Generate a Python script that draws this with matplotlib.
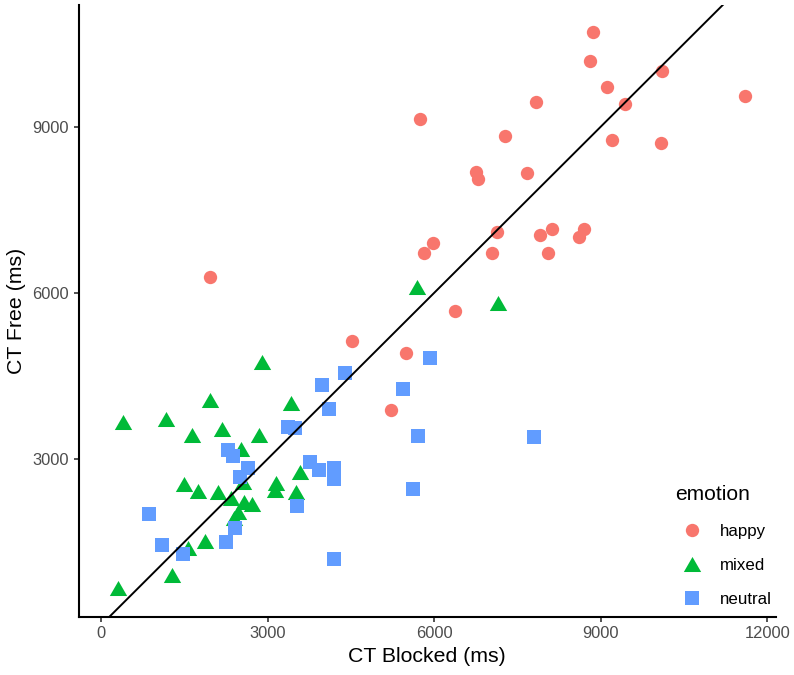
import matplotlib
matplotlib.use("Agg")
import matplotlib.pyplot as plt
from matplotlib.lines import Line2D

plt.rcParams['font.family'] = ['Liberation Sans', 'DejaVu Sans']

# ---- data (ms) ----
happy_x = [8854, 8811, 10102, 9106, 7838, 9441, 11591, 5744, 7269, 9202, 10089,
           6747, 6794, 7676, 7125, 7905, 8127, 8697, 8602, 5973, 5816, 7041,
           8049, 1963, 6374, 4525, 5492, 5222]
happy_y = [10704, 10191, 10011, 9717, 9451, 9410, 9554, 9139, 8838, 8765, 8700,
           8188, 8056, 8159, 7094, 7045, 7159, 7148, 7014, 6906, 6720, 6720,
           6720, 6281, 5673, 5137, 4910, 3886]

mixed_x = [5685, 7154, 2894, 1954, 3421, 396, 1165, 1630, 2173, 2851, 2521,
           3583, 3160, 3133, 3511, 1495, 1738, 2112, 2332, 2575, 2719, 2458,
           2395, 2557, 1873, 1567, 1273, 306]
mixed_y = [6112, 5812, 4747, 4067, 4007, 3675, 3718, 3435, 3538, 3435, 3182,
           2772, 2568, 2442, 2411, 2550, 2424, 2397, 2292, 2216, 2189, 2045,
           1937, 2587, 1521, 1389, 908, 668]

neutral_x = [5924, 4394, 3985, 5444, 4106, 3367, 3493, 5714, 7803, 3772, 3926,
             4196, 4187, 5627, 3538, 4201, 2292, 2382, 2652, 2494, 870, 2413,
             2256, 1093, 1468]
neutral_y = [4819, 4549, 4337, 4260, 3904, 3579, 3561, 3417, 3404, 2953, 2803,
             2834, 2641, 2455, 2153, 1191, 3164, 3050, 2834, 2682, 2009, 1751,
             1509, 1449, 1281]

x_ticks = [0, 3000, 6000, 9000, 12000]
y_ticks = [3000, 6000, 9000]
x_limits = (-402, 12155)
y_limits = (153, 11197)

groups = ['happy', 'mixed', 'neutral']
colors = {'happy': '#F8766D', 'mixed': '#00BA38', 'neutral': '#619CFF'}
tri = [(-0.9, -0.78), (0.9, -0.78), (0.0, 0.78)]
markers = {'happy': 'o', 'mixed': tri, 'neutral': 's'}
msizes = {'happy': 9.6, 'mixed': 12.5, 'neutral': 9.6}
series = {'happy': (happy_x, happy_y), 'mixed': (mixed_x, mixed_y),
          'neutral': (neutral_x, neutral_y)}

fig = plt.figure(figsize=(7.94, 6.75), dpi=100)
ax = fig.add_axes([0.0991, 0.0864, 0.8782, 0.9062])

for g in groups:
    xs, ys = series[g]
    ax.plot(xs, ys, linestyle='none', marker=markers[g], markersize=msizes[g],
            color=colors[g], markeredgewidth=0, zorder=3)

# identity line y = x
ax.axline((0, 0), slope=1, color='black', linewidth=1.4, zorder=4)

ax.set_xlim(*x_limits)
ax.set_ylim(*y_limits)
ax.set_xticks(x_ticks)
ax.set_yticks(y_ticks)
ax.set_xticklabels([str(t) for t in x_ticks])
ax.set_yticklabels([str(t) for t in y_ticks])

for s in ['top', 'right']:
    ax.spines[s].set_visible(False)
for s in ['left', 'bottom']:
    ax.spines[s].set_color('black')
    ax.spines[s].set_linewidth(1.5)

ax.tick_params(axis='both', which='major', length=3.8, width=1.2, color='#333333',
               labelcolor='#4D4D4D', labelsize=11.9, pad=3)

ax.set_xlabel('CT Blocked (ms)', fontsize=15.3, color='black', labelpad=4)
ax.set_ylabel('CT Free (ms)', fontsize=15.3, color='black', labelpad=5)

handles = [Line2D([], [], linestyle='none', marker=markers[g], markersize=msizes[g],
                  color=colors[g], markeredgewidth=0) for g in groups]
leg = ax.legend(handles, groups, title='emotion', loc='upper left',
                bbox_to_anchor=(675 / 794, 1 - 485 / 675),
                bbox_transform=fig.transFigure, frameon=False,
                fontsize=12.2, title_fontsize=15.1, borderpad=0,
                handlelength=2.0, handletextpad=0.65, labelspacing=1.12,
                alignment='left', borderaxespad=0)
leg._legend_box.sep = 14.5
for t in leg.get_texts():
    t.set_color('black')

fig.savefig('out.png', dpi=100)
